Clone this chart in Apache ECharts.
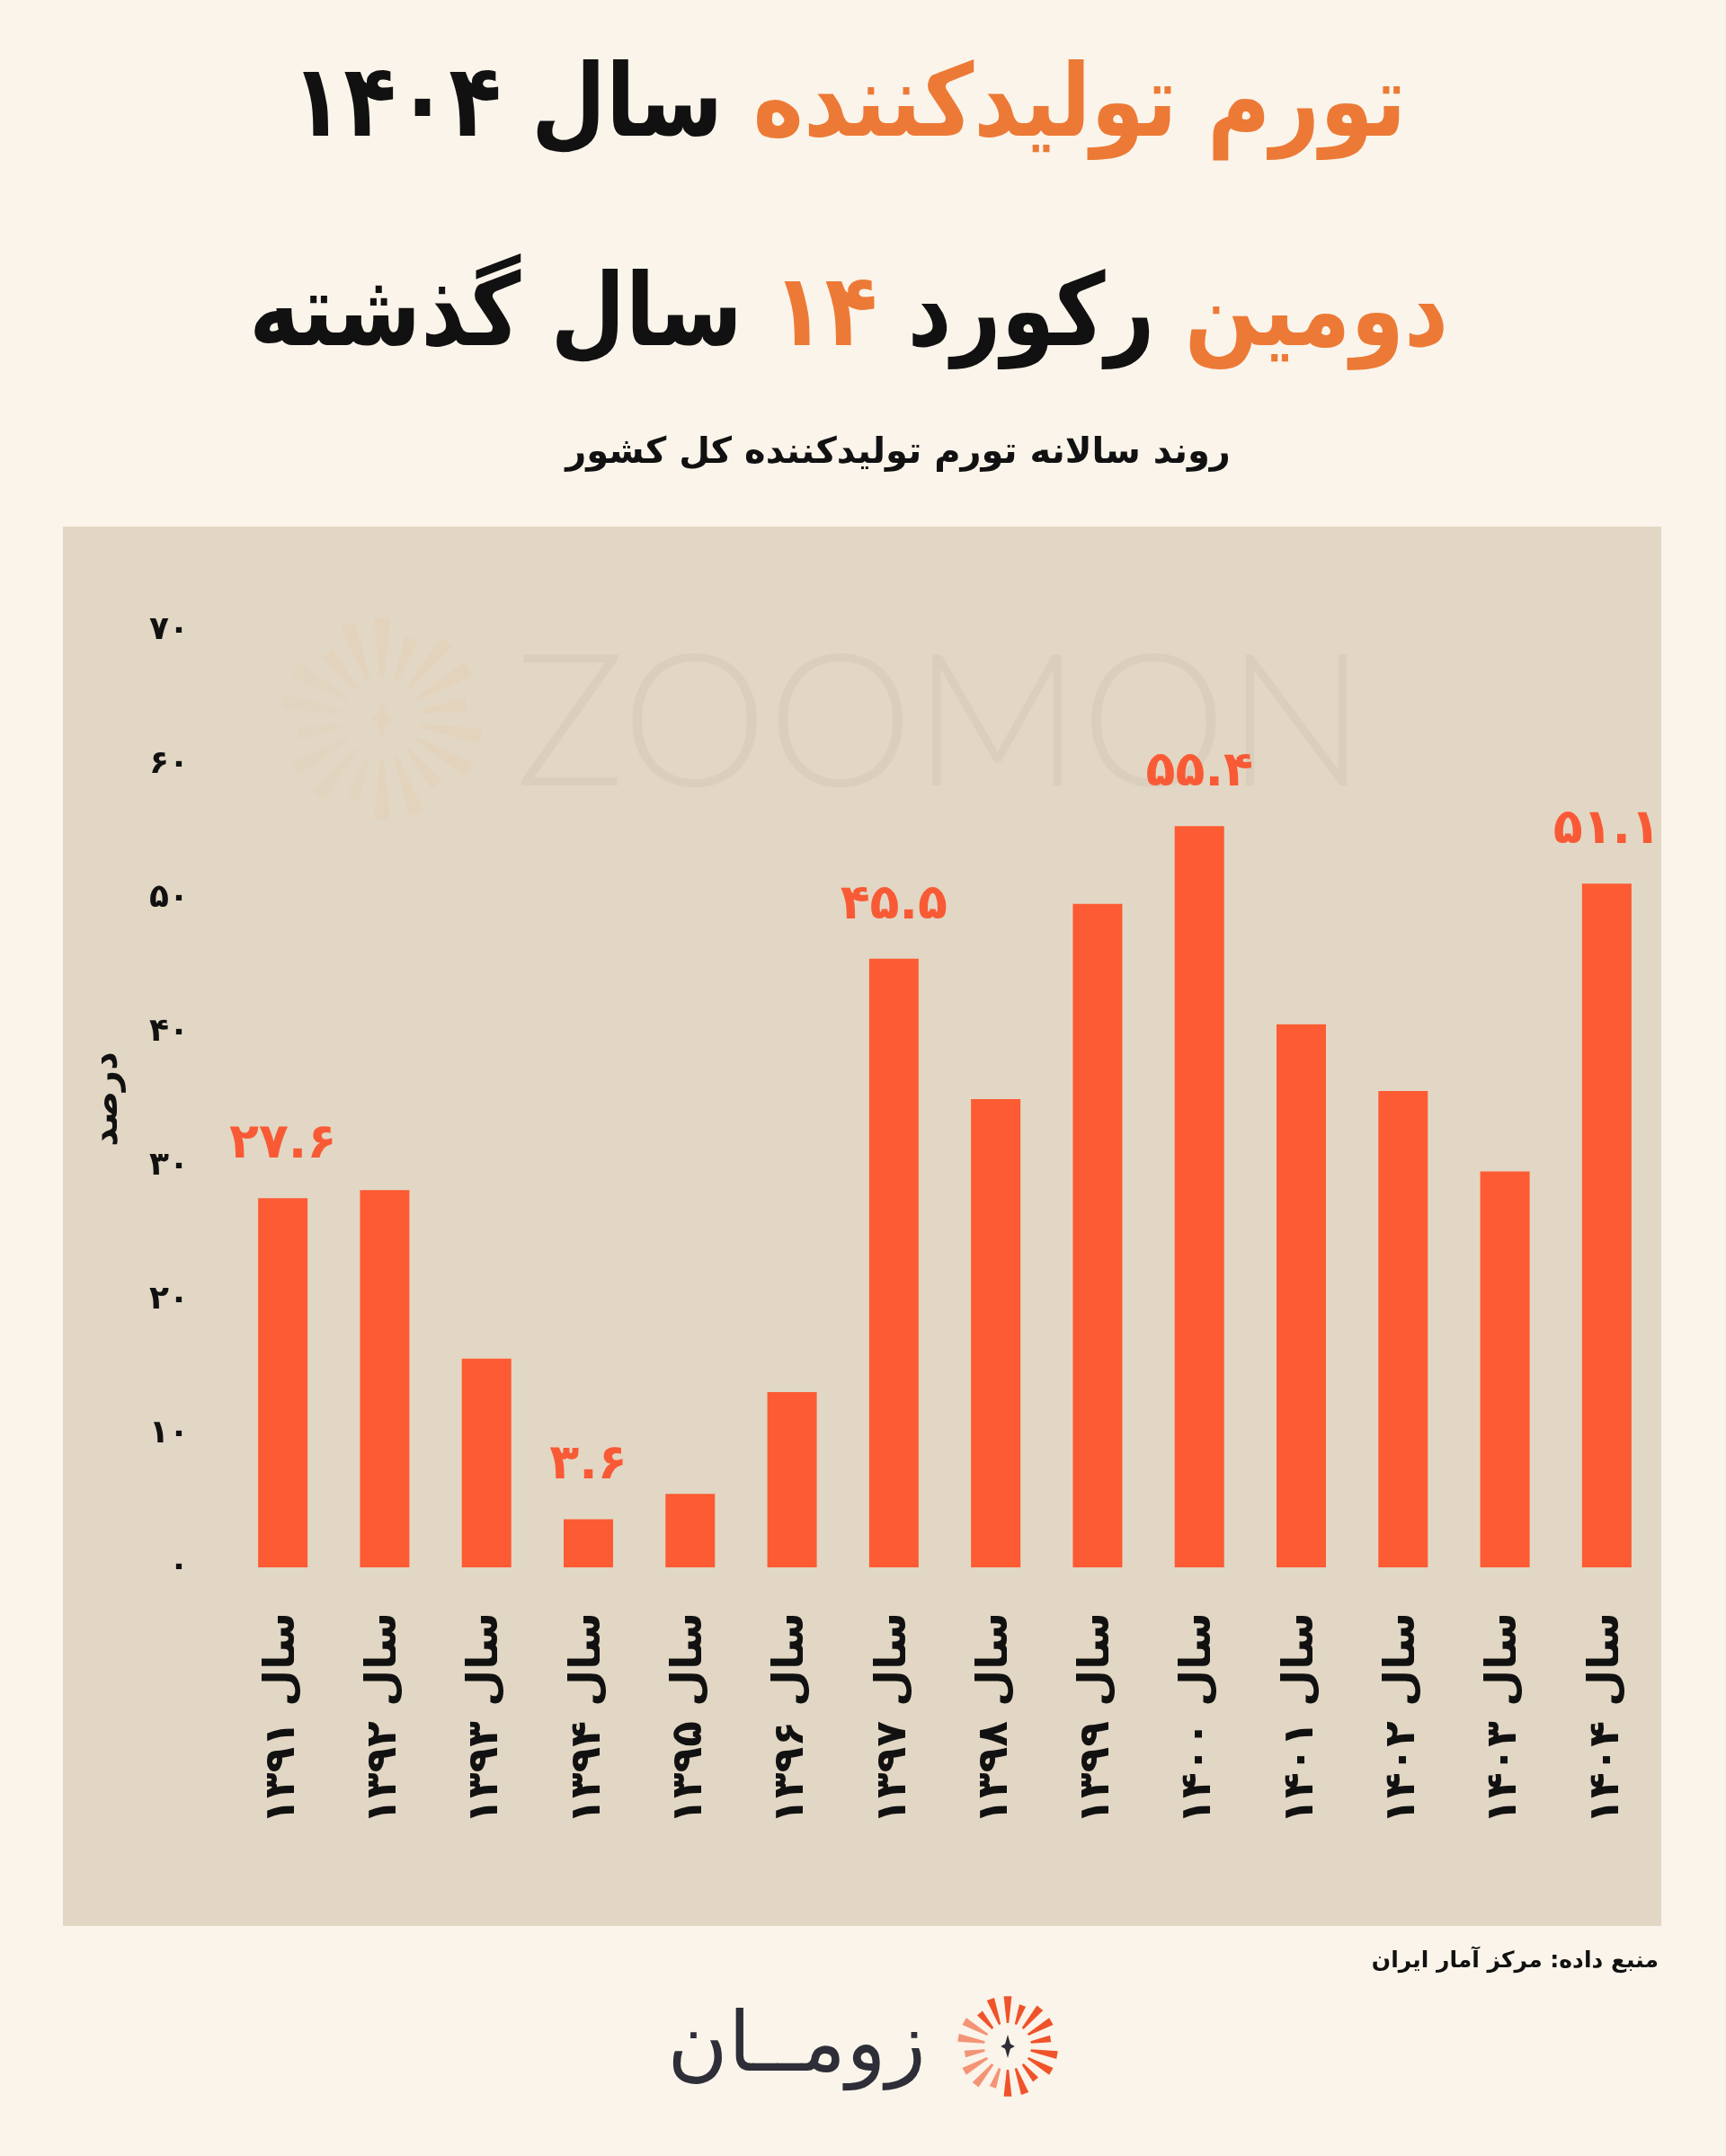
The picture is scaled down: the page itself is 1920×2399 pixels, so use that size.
<!DOCTYPE html>
<html>
<head>
<meta charset="utf-8">
<script src="https://cdn.jsdelivr.net/npm/echarts@6/dist/echarts.min.js"></script>
<style>
html, body { margin: 0; padding: 0; background: #FAF4EA; }
#chart { width: 1920px; height: 2399px; }
</style>
</head>
<body>
<div id="chart"></div>
<script>
// داده‌ها
var years = ['سال ۱۳۹۱', 'سال ۱۳۹۲', 'سال ۱۳۹۳', 'سال ۱۳۹۴', 'سال ۱۳۹۵', 'سال ۱۳۹۶', 'سال ۱۳۹۷',
	'سال ۱۳۹۸', 'سال ۱۳۹۹', 'سال ۱۴۰۰', 'سال ۱۴۰۱', 'سال ۱۴۰۲', 'سال ۱۴۰۳', 'سال ۱۴۰۴'];
var inflation = [27.6, 28.2, 15.6, 3.6, 5.5, 13.1, 45.5, 35.0, 49.6, 55.4, 40.6, 35.6, 29.6, 51.1];
var labelledBars = [0, 3, 6, 9, 13];
var yTicks = ['۰', '۱۰', '۲۰', '۳۰', '۴۰', '۵۰', '۶۰', '۷۰'];

var FONT = "'DejaVu Sans', sans-serif";
var ORANGE = '#EC7A36';
var BAR = '#FC5B33';

function toFa(s) {
	return String(s).replace(/\d/g, function(d) {
		return '۰۱۲۳۴۵۶۷۸۹'[d];
	});
}

// پرتوهای لوگو
function sunRays(cx, cy, r1, r2, n, color, opacity) {
	var items = [];
	for(var i = 0; i < n; i++) {
		var a = -Math.PI / 2 + i * 2 * Math.PI / n;
		var w = Math.PI / n * 0.45;
		var len = r2 - (i % 3 === 1 ? (r2 - r1) * 0.25 : 0);
		items.push({
			type: 'polygon',
			silent: true,
			shape: {
				points: [
					[cx + r1 * Math.cos(a - w * 0.6), cy + r1 * Math.sin(a - w * 0.6)],
					[cx + len * Math.cos(a - w), cy + len * Math.sin(a - w)],
					[cx + len * Math.cos(a + w), cy + len * Math.sin(a + w)],
					[cx + r1 * Math.cos(a + w * 0.6), cy + r1 * Math.sin(a + w * 0.6)]
				]
			},
			style: { fill: color, opacity: opacity * (i > n * 0.55 && i < n * 0.85 ? 0.6 : 1) }
		});
	}
	return items;
}

function star(cx, cy, r, color, opacity) {
	var k = r * 0.22;
	return {
		type: 'polygon',
		silent: true,
		shape: {
			points: [[cx, cy - r], [cx + k, cy - k], [cx + r * 0.6, cy], [cx + k, cy + k],
				[cx, cy + r], [cx - k, cy + k], [cx - r * 0.6, cy], [cx - k, cy - k]]
		},
		style: { fill: color, opacity: opacity }
	};
}

function headline(text, x, y) {
	return {
		type: 'text',
		silent: true,
		x: x,
		y: y,
		scaleX: 0.855,
		style: {
			text: text,
			align: 'center',
			verticalAlign: 'middle',
			rich: {
				k: { fontFamily: FONT, fontWeight: 'bold', fontSize: 112, fill: '#111111' },
				o: { fontFamily: FONT, fontWeight: 'bold', fontSize: 112, fill: ORANGE }
			}
		}
	};
}

function renderChart() {
	var graphics = [{
		type: 'rect',
		silent: true,
		z: -10,
		shape: { x: 70, y: 586, width: 1778, height: 1557 },
		style: { fill: '#E2D7C4' }
	}, {
		type: 'text',
		silent: true,
		z: -5,
		x: 1046,
		y: 808,
		style: {
			text: 'ZOOMON',
			fill: 'rgba(110,90,60,0.06)',
			font: "300 205px Lato, 'Open Sans', sans-serif",
			align: 'center',
			verticalAlign: 'middle'
		}
	}, {
		type: 'text',
		silent: true,
		x: 1030,
		y: 2280,
		style: {
			text: 'زومــان',
			fill: '#2E2E38',
			font: "92px " + FONT,
			align: 'right',
			verticalAlign: 'middle'
		}
	}];
	graphics = graphics.concat(sunRays(425, 800, 45, 112, 18, '#E9C9A4', 0.22));
	graphics.push(star(425, 800, 22, '#E9C9A4', 0.25));
	graphics = graphics.concat(sunRays(1121, 2277, 26, 56, 18, '#F0532A', 1));
	graphics.push(star(1121, 2277, 13, '#2E2E38', 1));
	graphics.forEach(function(g) { if(g.z === undefined) g.z = -5; });
	graphics.push(headline('{k|سال ۱۴۰۴ }{o|تورم تولیدکننده}', 944, 122));
	graphics.push(headline('{k|سال گذشته }{o|۱۴}{k| رکورد }{o|دومین}', 944, 355));

	var option = {
		backgroundColor: '#FAF4EA',
		animation: false,
		title: [{
			text: 'روند سالانه تورم تولیدکننده کل کشور',
			left: 994,
			top: 500,
			textAlign: 'center',
			textVerticalAlign: 'middle',
			textStyle: { fontFamily: FONT, fontWeight: 'bold', fontSize: 40, color: '#111111' }
		}, {
			text: 'منبع داده: مرکز آمار ایران',
			right: 70,
			top: 2177,
			textVerticalAlign: 'middle',
			textStyle: { fontFamily: FONT, fontWeight: 'bold', fontSize: 25, color: '#111111' }
		}],
		grid: {
			left: 258,
			right: 76,
			top: 702,
			bottom: 655
		},
		xAxis: {
			type: 'category',
			data: years,
			axisLine: { show: false },
			axisTick: { show: false },
			axisLabel: {
				rotate: 90,
				margin: 50,
				interval: 0,
				fontFamily: FONT,
				fontWeight: 'bold',
				fontSize: 47,
				color: '#111111'
			}
		},
		yAxis: {
			type: 'value',
			min: 0,
			max: 70,
			interval: 10,
			name: 'درصد',
			nameLocation: 'middle',
			nameRotate: 90,
			nameGap: 118,
			nameTextStyle: { fontFamily: FONT, fontWeight: 'bold', fontSize: 40, color: '#111111' },
			axisLine: { show: false },
			axisTick: { show: false },
			splitLine: { show: false },
			axisLabel: {
				margin: 48,
				fontFamily: FONT,
				fontWeight: 'bold',
				fontSize: 36,
				color: '#111111',
				formatter: function(v) {
					return yTicks[Math.round(v / 10)];
				}
			}
		},
		series: [{
			type: 'bar',
			barWidth: 55,
			data: inflation.map(function(v, i) {
				return {
					value: v,
					label: { show: labelledBars.indexOf(i) >= 0 }
				};
			}),
			itemStyle: { color: BAR },
			label: {
				position: 'top',
				distance: 32,
				fontFamily: FONT,
				fontWeight: 'bold',
				fontSize: 54,
				color: '#F95A36',
				formatter: function(p) {
					return toFa(p.value);
				}
			}
		}],
		graphic: graphics
	};
	var chart = echarts.init(document.getElementById('chart'));
	chart.setOption(option);
}

renderChart();
</script>
</body>
</html>
